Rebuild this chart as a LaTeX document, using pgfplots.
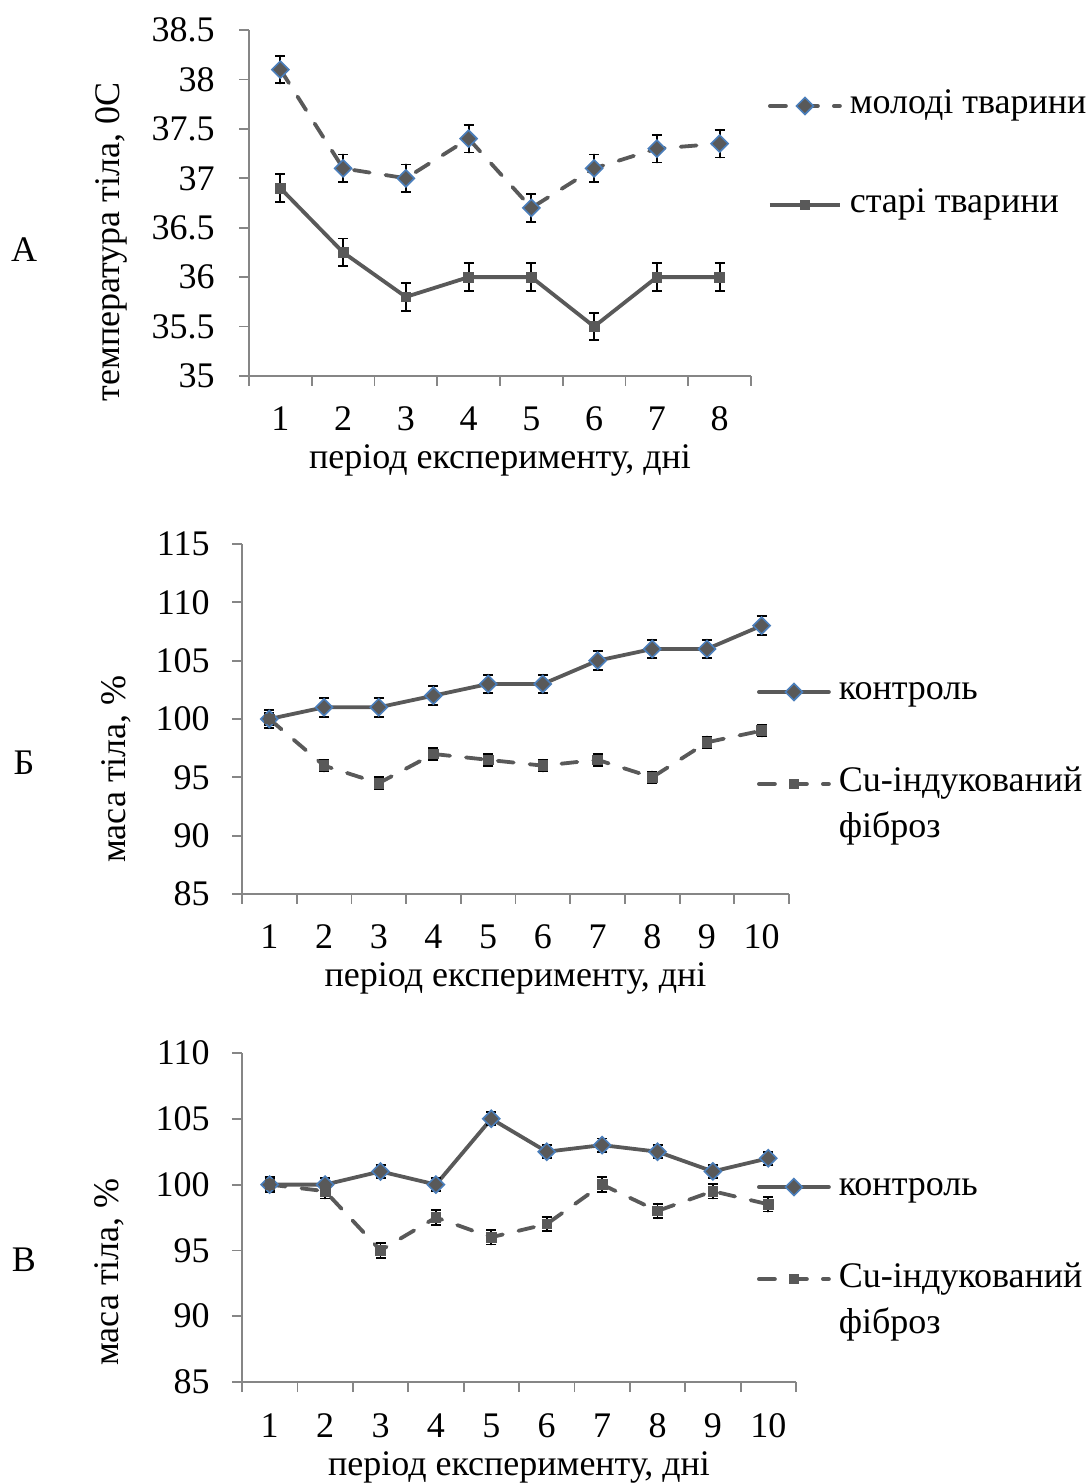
\documentclass[border=0pt]{standalone}
\usepackage{fontspec}
\setmainfont{Liberation Serif}
\usepackage{pgfplots}
\pgfplotsset{compat=1.18}

\definecolor{linegray}{HTML}{595959}
\definecolor{axgray}{HTML}{868686}
\definecolor{mkblue}{HTML}{4A7EBB}
\newcommand{\chartfont}{\fontsize{18pt}{21pt}\selectfont}

\pgfplotsset{
  panel/.style={
    scale only axis, clip=false,
    axis x line*=bottom, axis y line*=left,
    axis line style={axgray, line width=0.9pt},
    tick align=outside, tick pos=left,
    major tick length=5pt, minor tick length=5pt,
    tick style={axgray, line width=0.9pt},
    major x tick style={draw=none},
    /pgf/number format/assume math mode=true,
    font=\chartfont,
    tick label style={font=\chartfont},
    xticklabel style={anchor=base, inner sep=0pt, yshift=-22.5pt},
    yticklabel style={anchor=east, inner sep=0pt, xshift=-12pt},
    xlabel style={at={(axis description cs:0.5,0)}, anchor=base, yshift=-46.5pt, font=\chartfont},
    ylabel style={anchor=center, font=\chartfont},
    legend style={draw=none, fill=none, inner sep=0pt, outer sep=0pt, anchor=north west,
      column sep=4pt, row sep=7pt, font=\chartfont,
      nodes={inner sep=0pt, text height=12pt, text depth=4pt}},
    legend cell align=left,
    legend image code/.code={\draw[mark repeat=2,mark phase=2,##1] plot coordinates {(0pt,0pt) (17.5pt,0pt) (35pt,0pt)};},
    error bars/y dir=both, error bars/y explicit,
    error bars/error bar style={black, line width=0.9pt, solid},
    error bars/error mark options={rotate=90, black, mark size=2.5pt, line width=0.9pt},
  },
  dashdiamond/.style={linegray, line width=1.9pt, dash pattern=on 8pt off 8pt, line cap=round,
    mark=square*, mark size=3pt, mark options={solid, rotate=45, fill=linegray, draw=mkblue, line width=0.8pt}},
  soliddiamond/.style={linegray, line width=1.9pt, line cap=round,
    mark=square*, mark size=3pt, mark options={solid, rotate=45, fill=linegray, draw=mkblue, line width=0.8pt}},
  solidsquare/.style={linegray, line width=1.9pt,
    mark=square*, mark size=2.4pt, mark options={solid, fill=linegray, draw=linegray, line width=0.4pt}},
  dashsquare/.style={linegray, line width=1.9pt, dash pattern=on 8pt off 8pt, line cap=round,
    mark=square*, mark size=2.4pt, mark options={solid, fill=linegray, draw=linegray, line width=0.4pt}},
}

\begin{document}
\begin{tikzpicture}
\useasboundingbox (0,0) rectangle (546pt,741.5pt);

% ---------- А: body temperature ----------
\node[font=\chartfont] at (12pt,616.5pt) {А};
\begin{axis}[panel,
  at={(124.5pt,553.5pt)}, anchor=south west,
  width=251pt, height=173pt,
  xmin=0.5, xmax=8.5, ymin=35, ymax=38.5,
  xtick={1,...,8}, minor xtick={0.5,1.5,...,8.5},
  ytick={35,35.5,...,38.5},
  xlabel={період експерименту, дні},
  ylabel={температура тіла, 0С},
  ylabel style={at={(axis description cs:-0.2749,0.3873)}},
  legend style={at={(axis description cs:1.0339,0.8266)}, row sep=33.5pt},
]
\addplot[dashdiamond] coordinates {
  (1,38.1) +- (0,0.14) (2,37.1) +- (0,0.14) (3,37.0) +- (0,0.14) (4,37.4) +- (0,0.14)
  (5,36.7) +- (0,0.14) (6,37.1) +- (0,0.14) (7,37.3) +- (0,0.14) (8,37.35) +- (0,0.14)};
\addlegendentry{молоді тварини}
\addplot[solidsquare] coordinates {
  (1,36.9) +- (0,0.14) (2,36.25) +- (0,0.14) (3,35.8) +- (0,0.14) (4,36.0) +- (0,0.14)
  (5,36.0) +- (0,0.14) (6,35.5) +- (0,0.14) (7,36.0) +- (0,0.14) (8,36.0) +- (0,0.14)};
\addlegendentry{старі тварини}
\end{axis}

% ---------- Б: body mass ----------
\node[font=\chartfont] at (12pt,360pt) {Б};
\begin{axis}[panel,
  at={(121pt,294.5pt)}, anchor=south west,
  width=273.5pt, height=175pt,
  xmin=0.5, xmax=10.5, ymin=85, ymax=115,
  xtick={1,...,10}, minor xtick={0.5,1.5,...,10.5},
  ytick={85,90,...,115},
  xlabel={період експерименту, дні},
  ylabel={маса тіла, \%},
  ylabel style={at={(axis description cs:-0.2303,0.3571)}},
  yticklabel style={xshift=1pt},
  legend style={at={(axis description cs:0.9415,0.6229)}},
]
\addplot[soliddiamond] coordinates {
  (1,100) +- (0,0.8) (2,101) +- (0,0.8) (3,101) +- (0,0.8) (4,102) +- (0,0.8) (5,103) +- (0,0.8)
  (6,103) +- (0,0.8) (7,105) +- (0,0.8) (8,106) +- (0,0.8) (9,106) +- (0,0.8) (10,108) +- (0,0.8)};
\addlegendentry{контроль}
\addlegendimage{empty legend}
\addlegendentry{}
\addplot[dashsquare] coordinates {
  (1,100) +- (0,0.5) (2,96) +- (0,0.5) (3,94.5) +- (0,0.5) (4,97) +- (0,0.5) (5,96.5) +- (0,0.5)
  (6,96) +- (0,0.5) (7,96.5) +- (0,0.5) (8,95) +- (0,0.5) (9,98) +- (0,0.5) (10,99) +- (0,0.5)};
\addlegendentry{Cu-індукований}
\addlegendimage{empty legend}
\addlegendentry{фіброз}
\end{axis}

% ---------- В: body mass ----------
\node[font=\chartfont] at (12pt,111.5pt) {В};
\begin{axis}[panel,
  at={(121pt,50.5pt)}, anchor=south west,
  width=277pt, height=164.5pt,
  xmin=0.5, xmax=10.5, ymin=85, ymax=110,
  xtick={1,...,10}, minor xtick={0.5,1.5,...,10.5},
  ytick={85,90,...,110},
  xlabel={період експерименту, дні},
  ylabel={маса тіла, \%},
  ylabel style={at={(axis description cs:-0.2401,0.3343)}},
  yticklabel style={xshift=1pt},
  legend style={at={(axis description cs:0.9296,0.6413)}},
]
\addplot[soliddiamond] coordinates {
  (1,100) +- (0,0.5) (2,100) +- (0,0.5) (3,101) +- (0,0.5) (4,100) +- (0,0.5) (5,105) +- (0,0.5)
  (6,102.5) +- (0,0.5) (7,103) +- (0,0.5) (8,102.5) +- (0,0.5) (9,101) +- (0,0.5) (10,102) +- (0,0.5)};
\addlegendentry{контроль}
\addlegendimage{empty legend}
\addlegendentry{}
\addplot[dashsquare] coordinates {
  (1,100) +- (0,0.55) (2,99.5) +- (0,0.55) (3,95) +- (0,0.55) (4,97.5) +- (0,0.55) (5,96) +- (0,0.55)
  (6,97) +- (0,0.55) (7,100) +- (0,0.55) (8,98) +- (0,0.55) (9,99.5) +- (0,0.55) (10,98.5) +- (0,0.55)};
\addlegendentry{Cu-індукований}
\addlegendimage{empty legend}
\addlegendentry{фіброз}
\end{axis}
\end{tikzpicture}
\end{document}
